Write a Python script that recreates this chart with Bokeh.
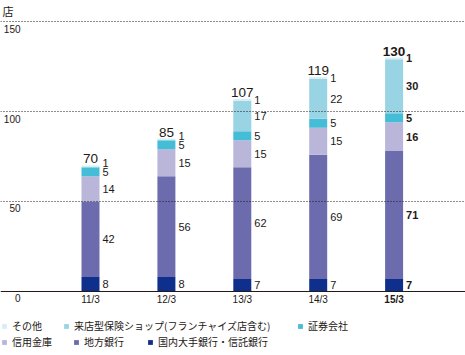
from bokeh.plotting import figure
from bokeh.models import ColumnDataSource, Range1d, Span, Legend, LegendItem
from bokeh.core.properties import value
from bokeh.embed import file_html
from bokeh.resources import INLINE

# ---------------- data ----------------
periods = ["11/3", "12/3", "13/3", "14/3", "15/3"]
major_banks = [8, 8, 7, 7, 7]            # 国内大手銀行・信託銀行
regional_banks = [42, 56, 62, 69, 71]    # 地方銀行
shinkin = [14, 15, 15, 15, 16]           # 信用金庫
securities = [5, 5, 5, 5, 5]             # 証券会社
insurance_shops = [0, 0, 17, 22, 30]     # 来店型保険ショップ
others = [1, 1, 1, 1, 1]                 # その他
totals = [70, 85, 107, 119, 130]
y_ticks = [0, 50, 100, 150]
unit_label = "店"
series_names = ["国内大手銀行・信託銀行", "地方銀行", "信用金庫", "証券会社",
                "来店型保険ショップ(フランチャイズ店含む)", "その他"]
colors = ["#0f2f8c", "#6b6bae", "#b9b6da", "#45bdd6", "#99d4e4", "#d6eef5"]
bold_period = "15/3"

# ---------------- figure ----------------
JP = "Noto Sans CJK JP"
NUM = "Liberation Sans"
TXT = "#231815"
PX_PER_UNIT = 1.8

p = figure(width=465, height=355, output_backend="svg", toolbar_location=None,
           x_range=Range1d(-1.1858, 4.9407), y_range=Range1d(-35.56, 161.67),
           x_axis_type=None, y_axis_type=None, min_border=0,
           outline_line_color=None, background_fill_color="white",
           border_fill_color="white")
p.xgrid.visible = False
p.ygrid.visible = False

# grid lines
for t in y_ticks:
    if t == 0:
        p.add_layout(Span(location=t, dimension="width", line_color="#231815", line_width=1))
    else:
        p.add_layout(Span(location=t, dimension="width", line_color="#231815", line_width=1,
                          line_dash="1 2"))

keys = ["major", "regional", "shinkin", "sec", "ins", "oth"]
series = [major_banks, regional_banks, shinkin, securities, insurance_shops, others]
xs = list(range(len(periods)))
src = ColumnDataSource(dict(x=xs, **{k: v for k, v in zip(keys, series)}))
bar_w = 0.237
rs = p.vbar_stack(keys, x="x", width=bar_w, fill_color=colors, line_color=None, source=src)

# segment labels (nudged upward when too close to the one below)
min_gap = 9 / PX_PER_UNIT
lx, ly, lt, ls = [], [], [], []
for i, per in enumerate(periods):
    base = 0
    prev = None
    for s in series:
        v = s[i]
        if v > 0:
            y = base + v / 2
            if prev is not None and y - prev < min_gap:
                y = prev + min_gap
            prev = y
            lx.append(i)
            ly.append(y)
            lt.append(str(v))
            ls.append("bold" if per == bold_period else "normal")
        base += v
seg_src = ColumnDataSource(dict(x=lx, y=ly, t=lt, s=ls))
p.text(x="x", y="y", text="t", source=seg_src, x_offset=12, text_align="left",
       text_baseline="middle", text_font=value(NUM), text_font_size="11px",
       text_font_style="s", text_color=TXT)

# totals
tot_src = ColumnDataSource(dict(x=xs, y=totals, t=[str(v) for v in totals],
                                s=["bold" if per == bold_period else "normal" for per in periods]))
p.text(x="x", y="y", text="t", source=tot_src, y_offset=-2, text_align="center",
       text_baseline="bottom", text_font=value(NUM), text_font_size="13.5px",
       text_font_style="s", text_color=TXT)

# x labels
xl_src = ColumnDataSource(dict(x=xs, y=[0] * len(xs), t=periods,
                               s=["bold" if per == bold_period else "normal" for per in periods]))
p.text(x="x", y="y", text="t", source=xl_src, y_offset=3, text_align="center",
       text_baseline="top", text_font=value(NUM), text_font_size="10px",
       text_font_style="s", text_color=TXT)

# y labels
x0 = p.x_range.start
yl_src = ColumnDataSource(dict(x=[x0] * len(y_ticks), y=y_ticks, t=[str(t) for t in y_ticks]))
p.text(x="x", y="y", text="t", source=yl_src, x_offset=20, y_offset=3, text_align="right",
       text_baseline="top", text_font=value(NUM), text_font_size="10px", text_color=TXT)

# unit
p.text(x=[x0], y=[p.y_range.end], text=[unit_label], x_offset=2, y_offset=2,
       text_align="left", text_baseline="top", text_font=value(JP), text_font_size="11px",
       text_color=TXT)

# legend: one entry per series, laid out in two rows
legend_layout = [(5, (1, 22)), (4, (63, 22)), (3, (297, 22)),
                 (2, (1, 6)), (1, (73, 6)), (0, (147, 6))]
for j, loc in legend_layout:
    p.add_layout(Legend(items=[LegendItem(label=series_names[j], renderers=[rs[j]])],
                        location=loc, glyph_width=6, glyph_height=6, label_height=6,
                        label_standoff=5, padding=0, margin=0, border_line_color=None,
                        background_fill_alpha=0, label_text_font=JP,
                        label_text_font_size="10px", label_text_color=TXT,
                        label_text_baseline="middle"))

open("out.html", "w").write(file_html(p, INLINE))
